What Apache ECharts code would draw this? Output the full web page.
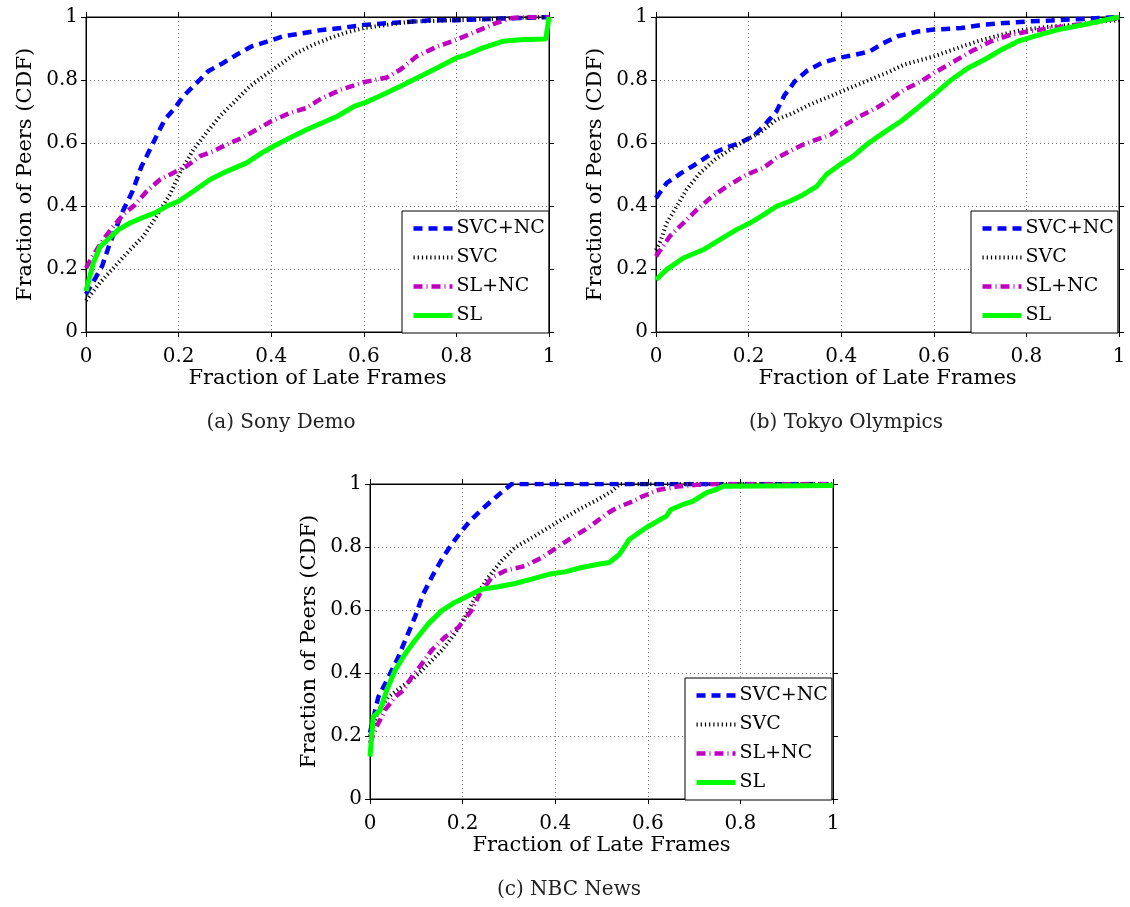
<!DOCTYPE html>
<html>
<head>
<meta charset="utf-8">
<title>Fraction of Late Frames CDF</title>
<script src="https://cdn.jsdelivr.net/npm/echarts@6/dist/echarts.min.js"></script>
<style>
  html, body { margin: 0; padding: 0; background: #fff; }
  #chart { width: 1130px; height: 907px; }
</style>
</head>
<body>
<div id="chart"></div>
<script>
// Axis ticks shared by every panel (0 .. 1 in steps of 0.2)
const tickValues = [0, 0.2, 0.4, 0.6, 0.8, 1];
const seriesNames = ['SVC+NC', 'SVC', 'SL+NC', 'SL'];
const panelCaptions = ['(a) Sony Demo', '(b) Tokyo Olympics', '(c) NBC News'];
const xTitle = 'Fraction of Late Frames';
const yTitle = 'Fraction of Peers (CDF)';

// (a) Sony Demo — [fraction of late frames, CDF]
const sonySvcNc = [[0,0.12],[0.02,0.17],[0.035,0.21],[0.05,0.275],[0.065,0.33],[0.08,0.385],[0.1,0.445],[0.12,0.526],[0.138,0.579],[0.152,0.621],[0.17,0.674],[0.192,0.711],[0.21,0.748],[0.235,0.785],[0.264,0.828],[0.296,0.854],[0.325,0.88],[0.358,0.907],[0.394,0.923],[0.426,0.939],[0.462,0.947],[0.505,0.958],[0.55,0.965],[0.6,0.975],[0.65,0.98],[0.7,0.985],[0.75,0.99],[0.8,0.99],[0.9,0.995],[1,1]];
const sonySvc = [[0,0.1],[0.03,0.156],[0.059,0.203],[0.095,0.261],[0.124,0.304],[0.152,0.367],[0.181,0.436],[0.203,0.505],[0.232,0.579],[0.26,0.632],[0.289,0.685],[0.318,0.727],[0.354,0.78],[0.383,0.812],[0.419,0.849],[0.455,0.886],[0.491,0.912],[0.527,0.933],[0.56,0.95],[0.6,0.965],[0.65,0.975],[0.7,0.985],[0.8,0.99],[0.9,0.995],[1,1]];
const sonySlNc = [[0,0.203],[0.016,0.245],[0.037,0.293],[0.059,0.335],[0.08,0.372],[0.106,0.404],[0.131,0.447],[0.16,0.484],[0.188,0.505],[0.217,0.526],[0.246,0.558],[0.275,0.574],[0.304,0.595],[0.336,0.616],[0.368,0.642],[0.4,0.669],[0.44,0.695],[0.476,0.711],[0.507,0.74],[0.55,0.769],[0.6,0.793],[0.65,0.808],[0.679,0.833],[0.714,0.875],[0.757,0.905],[0.8,0.928],[0.843,0.954],[0.886,0.981],[0.921,0.997],[0.95,1],[1,1]];
const sonySl = [[0,0.13],[0.016,0.22],[0.03,0.27],[0.052,0.3],[0.07,0.325],[0.095,0.346],[0.12,0.362],[0.149,0.378],[0.174,0.399],[0.2,0.415],[0.232,0.447],[0.268,0.484],[0.304,0.51],[0.347,0.537],[0.379,0.568],[0.404,0.589],[0.44,0.616],[0.476,0.642],[0.507,0.662],[0.543,0.685],[0.579,0.716],[0.604,0.729],[0.636,0.75],[0.679,0.78],[0.707,0.801],[0.743,0.827],[0.779,0.854],[0.8,0.87],[0.821,0.88],[0.857,0.902],[0.9,0.923],[0.936,0.928],[0.993,0.93],[1,1]];

// (b) Tokyo Olympics
const tokyoSvcNc = [[0,0.425],[0.023,0.473],[0.055,0.505],[0.084,0.531],[0.117,0.563],[0.149,0.584],[0.181,0.6],[0.21,0.621],[0.235,0.658],[0.26,0.7],[0.278,0.753],[0.3,0.796],[0.325,0.828],[0.358,0.854],[0.394,0.87],[0.43,0.88],[0.462,0.891],[0.491,0.917],[0.522,0.939],[0.565,0.954],[0.6,0.96],[0.659,0.965],[0.71,0.976],[0.753,0.981],[0.804,0.986],[0.854,0.989],[0.926,0.994],[1,1]];
const tokyoSvc = [[0,0.26],[0.01,0.29],[0.023,0.346],[0.045,0.399],[0.066,0.452],[0.095,0.505],[0.127,0.547],[0.16,0.579],[0.196,0.611],[0.224,0.632],[0.26,0.674],[0.296,0.695],[0.332,0.722],[0.376,0.748],[0.419,0.775],[0.462,0.801],[0.505,0.827],[0.536,0.849],[0.6,0.875],[0.652,0.902],[0.695,0.923],[0.746,0.944],[0.796,0.96],[0.854,0.97],[0.912,0.976],[0.962,0.986],[1,0.99]];
const tokyoSlNc = [[0,0.24],[0.03,0.304],[0.059,0.346],[0.088,0.388],[0.117,0.425],[0.153,0.462],[0.196,0.5],[0.232,0.521],[0.26,0.552],[0.289,0.574],[0.318,0.595],[0.347,0.611],[0.376,0.626],[0.404,0.653],[0.44,0.685],[0.476,0.711],[0.505,0.738],[0.536,0.769],[0.573,0.796],[0.6,0.822],[0.638,0.854],[0.681,0.891],[0.724,0.923],[0.767,0.944],[0.804,0.954],[0.854,0.965],[0.912,0.976],[0.962,0.986],[1,0.997]];
const tokyoSl = [[0,0.166],[0.023,0.198],[0.059,0.235],[0.102,0.261],[0.138,0.293],[0.174,0.325],[0.203,0.346],[0.232,0.372],[0.26,0.399],[0.289,0.415],[0.318,0.436],[0.347,0.462],[0.368,0.5],[0.397,0.531],[0.426,0.558],[0.455,0.595],[0.491,0.632],[0.529,0.669],[0.565,0.711],[0.6,0.753],[0.638,0.801],[0.674,0.838],[0.71,0.865],[0.746,0.896],[0.782,0.923],[0.818,0.939],[0.869,0.96],[0.926,0.976],[1,1]];

// (c) NBC News
const nbcSvcNc = [[0,0.21],[0.018,0.324],[0.04,0.387],[0.061,0.45],[0.079,0.514],[0.097,0.577],[0.115,0.651],[0.137,0.714],[0.155,0.761],[0.176,0.808],[0.198,0.851],[0.219,0.887],[0.245,0.924],[0.27,0.956],[0.291,0.982],[0.306,1],[1,1]];
const nbcSvc = [[0,0.2],[0.018,0.282],[0.04,0.324],[0.068,0.356],[0.097,0.387],[0.126,0.429],[0.155,0.472],[0.183,0.524],[0.205,0.577],[0.227,0.64],[0.255,0.703],[0.284,0.756],[0.313,0.798],[0.349,0.829],[0.385,0.861],[0.421,0.893],[0.457,0.924],[0.493,0.951],[0.522,0.977],[0.54,1],[1,1]];
const nbcSlNc = [[0,0.177],[0.011,0.219],[0.032,0.282],[0.054,0.324],[0.072,0.345],[0.09,0.387],[0.112,0.429],[0.133,0.472],[0.162,0.514],[0.191,0.545],[0.219,0.598],[0.237,0.651],[0.263,0.703],[0.291,0.724],[0.335,0.74],[0.371,0.766],[0.403,0.798],[0.435,0.829],[0.471,0.861],[0.514,0.908],[0.532,0.924],[0.568,0.945],[0.589,0.961],[0.625,0.982],[0.668,0.993],[0.712,0.998],[0.75,1],[1,1]];
const nbcSl = [[0,0.135],[0.007,0.261],[0.022,0.282],[0.036,0.345],[0.054,0.408],[0.076,0.461],[0.097,0.503],[0.126,0.556],[0.155,0.598],[0.183,0.624],[0.205,0.64],[0.241,0.666],[0.277,0.674],[0.313,0.684],[0.349,0.698],[0.388,0.714],[0.421,0.721],[0.457,0.735],[0.493,0.745],[0.517,0.751],[0.539,0.777],[0.56,0.824],[0.596,0.861],[0.64,0.898],[0.65,0.919],[0.676,0.935],[0.697,0.945],[0.726,0.972],[0.747,0.982],[0.762,0.993],[1,0.995]];

const panelData = [
  [sonySvcNc, sonySvc, sonySlNc, sonySl],
  [tokyoSvcNc, tokyoSvc, tokyoSlNc, tokyoSl],
  [nbcSvcNc, nbcSvc, nbcSlNc, nbcSl]
];

// Plot boxes for the three panels (pixels)
const boxes = [
  { left: 86,  top: 17,  width: 463, height: 315 },
  { left: 656, top: 17,  width: 463, height: 315 },
  { left: 370, top: 484, width: 463, height: 315 }
];
const legendPos = [
  { left: 402, top: 211 },
  { left: 971, top: 211 },
  { left: 685, top: 678 }
];
const captionPos = [
  { x: 281, y: 423 },
  { x: 846, y: 423 },
  { x: 569, y: 890 }
];

const FONT = 'DejaVu Serif';

const lineStyles = [
  { color: '#0000ff', width: 4.5, type: [9, 6], cap: 'butt' },
  { color: '#000000', width: 4, type: [1.2, 3], cap: 'butt' },
  { color: '#c000c0', width: 4.5, type: [9, 4, 1, 4], cap: 'butt' },
  { color: '#00ff00', width: 5, type: 'solid', cap: 'butt' }
];

const grids = [], xAxes = [], yAxes = [], series = [], legends = [], graphics = [];

const tickStyle = { show: true, inside: false, length: 5, lineStyle: { color: '#000', width: 1 } };
const gridLine = { show: true, lineStyle: { color: '#777', width: 1, type: [1, 3] } };

boxes.forEach((b, i) => {
  grids.push(Object.assign({ show: true, borderColor: '#000', borderWidth: 1, backgroundColor: '#fff' }, b));

  // bottom axis with labels
  xAxes.push({
    type: 'value', gridIndex: i, min: tickValues[0], max: tickValues[tickValues.length - 1], interval: 0.2,
    position: 'bottom',
    name: xTitle, nameLocation: 'middle', nameGap: 35,
    nameTextStyle: { fontFamily: FONT, fontSize: 21, color: '#000' },
    axisLine: { show: true, onZero: false, lineStyle: { color: '#000', width: 1 } },
    axisTick: tickStyle,
    axisLabel: { show: true, margin: 15, fontFamily: FONT, fontSize: 20, color: '#000' },
    splitLine: gridLine
  });
  // left axis with labels
  yAxes.push({
    type: 'value', gridIndex: i, min: tickValues[0], max: tickValues[tickValues.length - 1], interval: 0.2,
    position: 'left',
    name: yTitle, nameLocation: 'middle', nameGap: 50, nameRotate: 90,
    nameTextStyle: { fontFamily: FONT, fontSize: 21, color: '#000' },
    axisLine: { show: true, onZero: false, lineStyle: { color: '#000', width: 1 } },
    axisTick: tickStyle,
    axisLabel: { show: true, margin: 8, fontFamily: FONT, fontSize: 20, color: '#000' },
    splitLine: gridLine
  });
});

// mirrored top / right axes carrying only tick marks
boxes.forEach((b, i) => {
  xAxes.push({
    type: 'value', gridIndex: i, min: 0, max: 1, interval: 0.2, position: 'top',
    axisLine: { show: true, onZero: false, lineStyle: { color: '#000', width: 1 } },
    axisTick: tickStyle, axisLabel: { show: false }, splitLine: { show: false }
  });
  yAxes.push({
    type: 'value', gridIndex: i, min: 0, max: 1, interval: 0.2, position: 'right',
    axisLine: { show: true, onZero: false, lineStyle: { color: '#000', width: 1 } },
    axisTick: tickStyle, axisLabel: { show: false }, splitLine: { show: false }
  });
});

// legend entries carry the same stroke as their series
const legendItems = seriesNames.map((name, k) => ({
  name: name,
  lineStyle: {
    color: lineStyles[k].color, width: lineStyles[k].width,
    type: lineStyles[k].type, cap: lineStyles[k].cap
  }
}));

panelData.forEach((curves, i) => {
  curves.forEach((pts, k) => {
    series.push({
      type: 'line', name: seriesNames[k], xAxisIndex: i, yAxisIndex: i,
      data: pts, showSymbol: false, symbol: 'none', smooth: false,
      lineStyle: lineStyles[k], itemStyle: { color: lineStyles[k].color },
      z: 2 + k, silent: true
    });
  });

  legends.push({
    left: legendPos[i].left, top: legendPos[i].top, orient: 'vertical',
    data: legendItems, itemWidth: 39, itemHeight: 19, itemGap: 10,
    padding: [8, 4, 8, 9], backgroundColor: '#fff', borderColor: '#000', borderWidth: 1, borderRadius: 0,
    // keep only the line sample in each legend entry
    itemStyle: { color: 'rgba(0,0,0,0)', borderWidth: 0, opacity: 0 },
    textStyle: { fontFamily: FONT, fontSize: 19, color: '#000', padding: [0, 0, 0, -1] },
    selectedMode: false, z: 10
  });

  graphics.push({
    type: 'text', x: captionPos[i].x, y: captionPos[i].y,
    style: { text: panelCaptions[i], fontFamily: FONT, fontSize: 20, fill: '#222', textAlign: 'center', textVerticalAlign: 'middle' }
  });
});

const chart = echarts.init(document.getElementById('chart'), null, { renderer: 'canvas' });
chart.setOption({
  animation: false,
  backgroundColor: '#fff',
  grid: grids,
  xAxis: xAxes,
  yAxis: yAxes,
  legend: legends,
  series: series,
  graphic: graphics
});
</script>
</body>
</html>
